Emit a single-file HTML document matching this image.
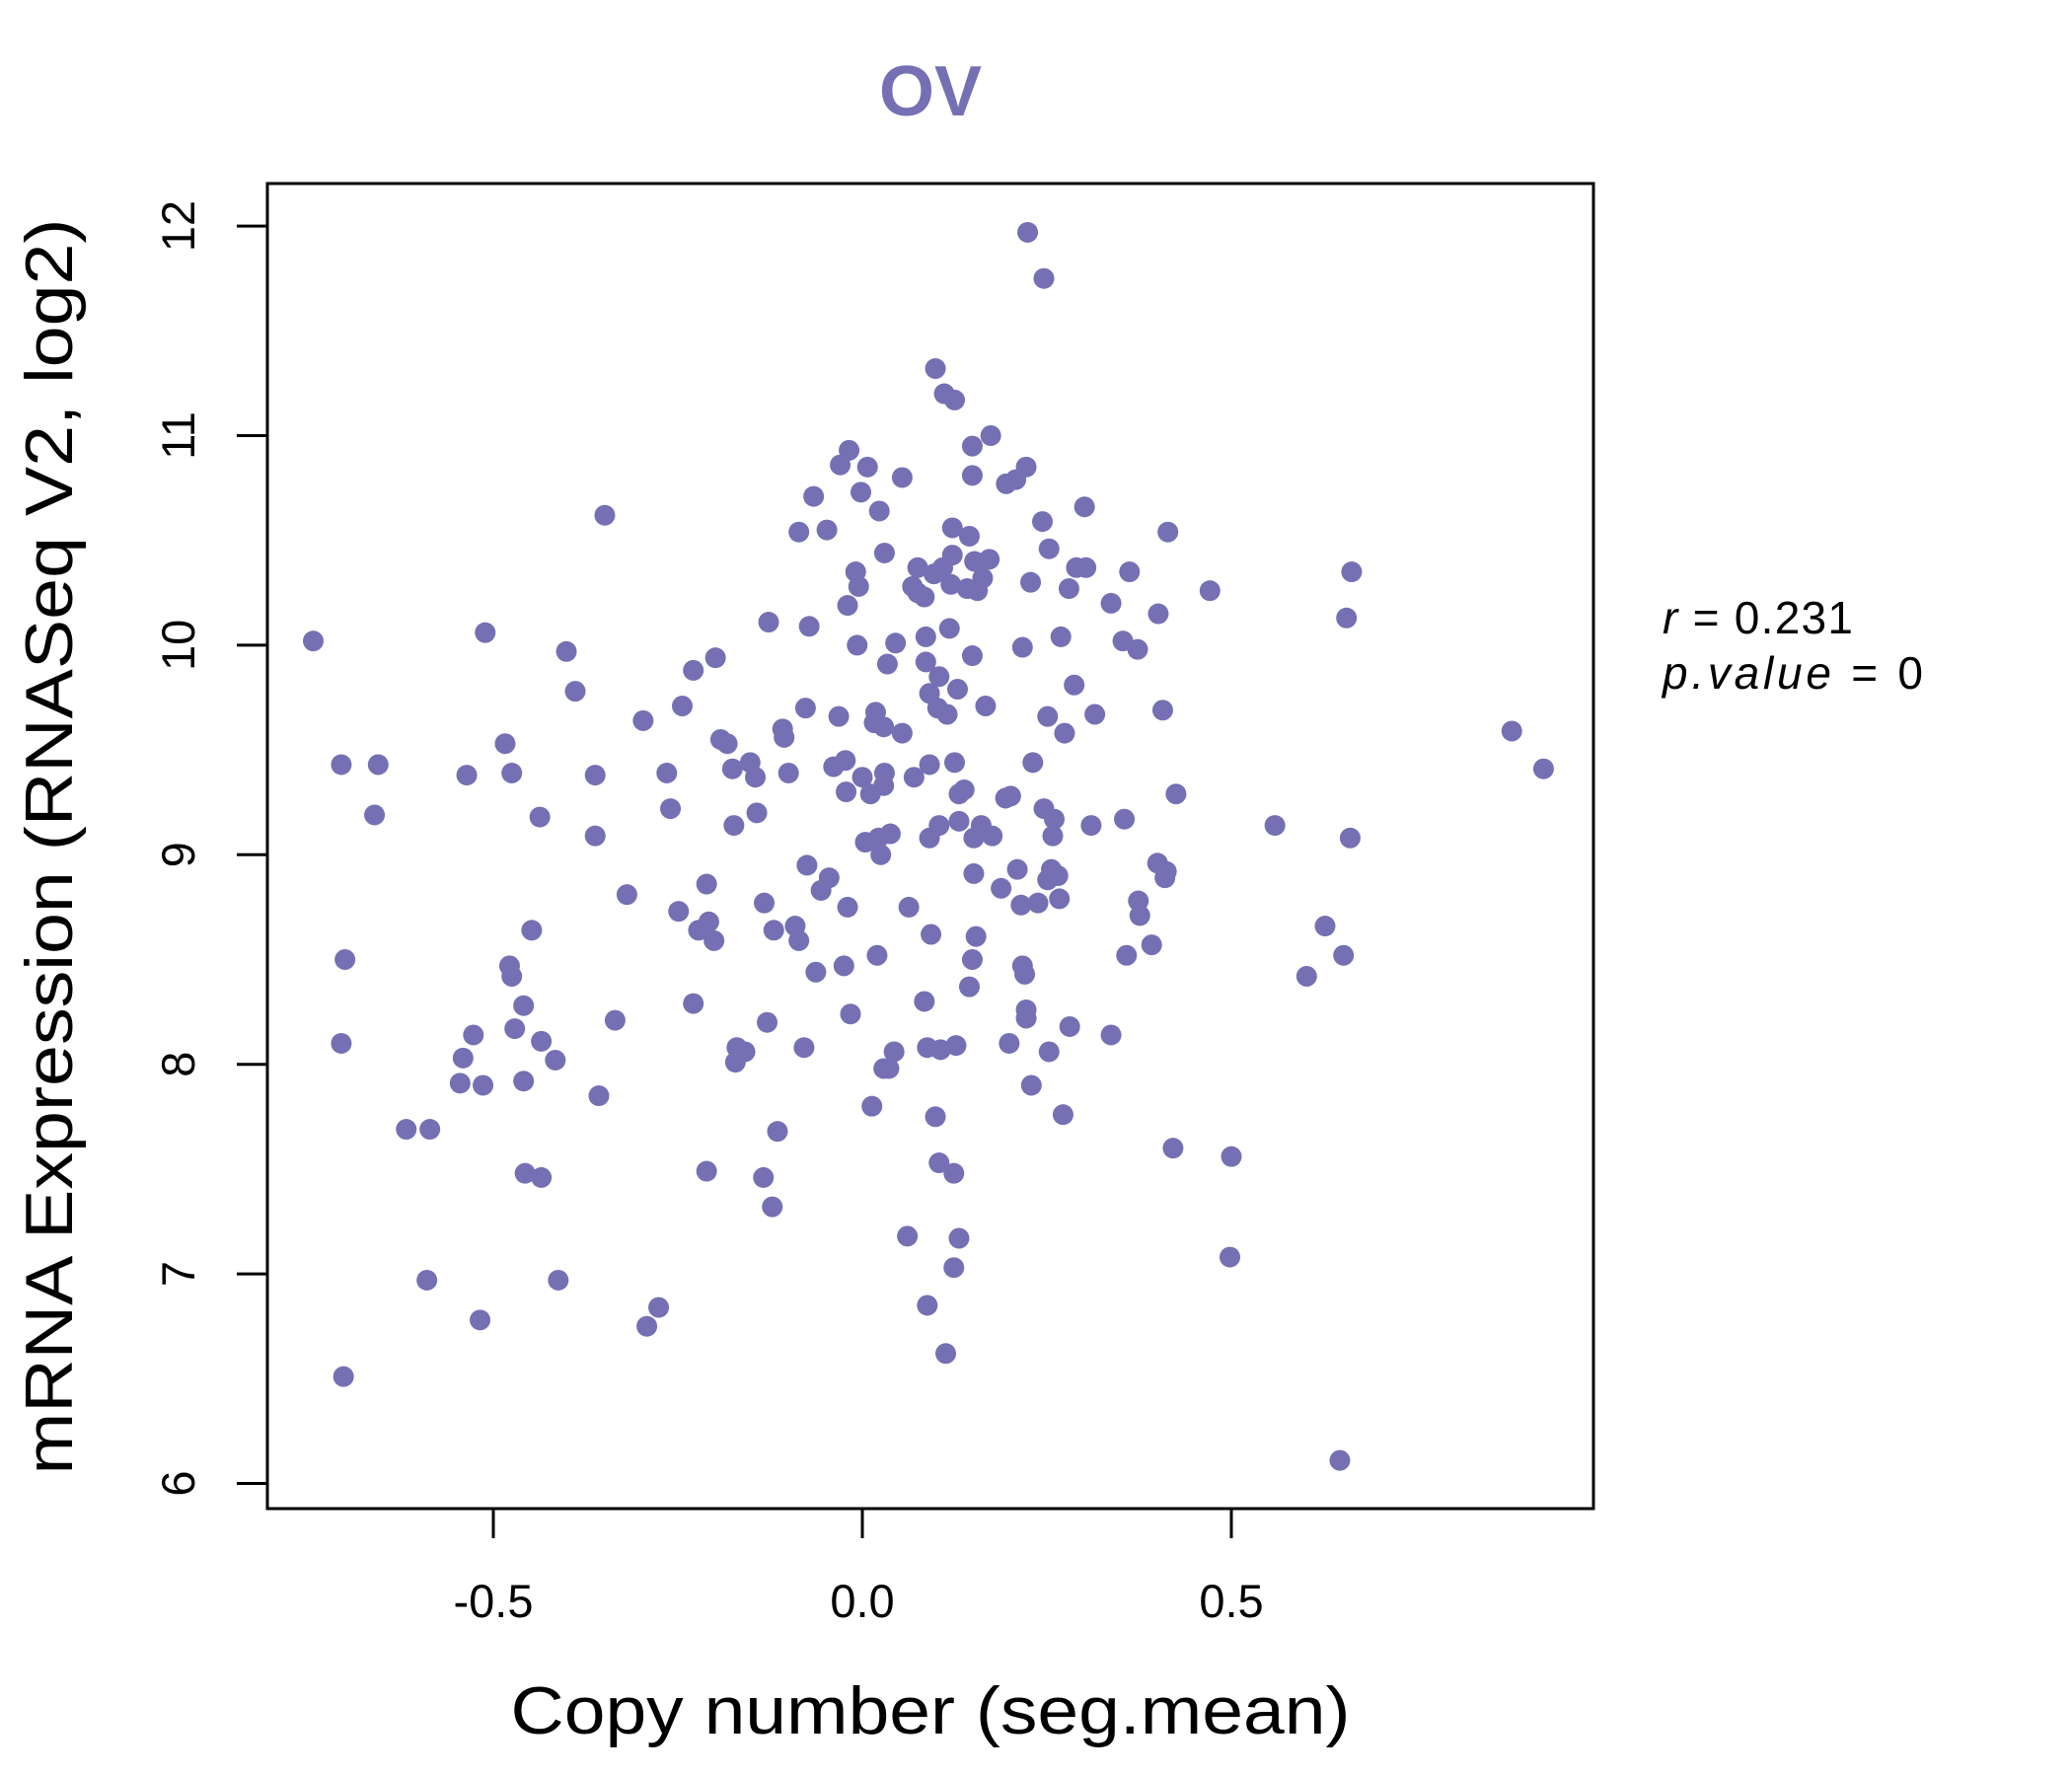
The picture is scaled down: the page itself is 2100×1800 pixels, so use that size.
<!DOCTYPE html>
<html><head><meta charset="utf-8"><style>html,body{margin:0;padding:0;background:#fff}svg{display:block}</style></head>
<body>
<svg id="chart" width="2100" height="1800" xmlns="http://www.w3.org/2000/svg" font-family="'Liberation Sans', sans-serif">
<text x="943" y="117" text-anchor="middle" font-size="72" font-weight="bold" fill="#7570b3">OV</text>
<rect x="271" y="186" width="1344" height="1343" fill="none" stroke="#000" stroke-width="3"/>
<g id="marks"></g>
<g id="axes"></g>
<text x="943" y="1757" text-anchor="middle" font-size="68" textLength="851" lengthAdjust="spacingAndGlyphs">Copy number (seg.mean)</text>
<text transform="translate(73,858) rotate(-90)" text-anchor="middle" font-size="68" textLength="1273" lengthAdjust="spacingAndGlyphs">mRNA Expression (RNASeq V2, log2)</text>
<text x="1685" y="642" font-size="46" textLength="193" lengthAdjust="spacing"><tspan font-style="italic">r</tspan> = 0.231</text>
<text x="1685" y="698" font-size="46" textLength="264" lengthAdjust="spacing"><tspan font-style="italic">p.value</tspan> = 0</text>
</svg>
<script>
const xTicks=[-0.5,0,0.5];
const xTickLabels=["-0.5","0.0","0.5"];
const yTicks=[6,7,8,9,10,11,12];
const yTickLabels=["6","7","8","9","10","11","12"];
const copyNumber=[-0.744,-0.706,-0.656,-0.661,-0.701,-0.706,-0.703,-0.618,-0.586,-0.590,-0.545,-0.541,-0.527,-0.514,-0.518,-0.536,-0.511,-0.484,-0.475,-0.478,-0.475,-0.471,-0.459,-0.459,-0.457,-0.448,-0.437,-0.435,-0.435,-0.416,-0.412,-0.401,-0.389,-0.362,-0.362,-0.357,-0.349,-0.335,-0.319,-0.297,-0.292,-0.276,-0.265,-0.260,-0.249,-0.244,-0.229,-0.229,-0.222,-0.211,-0.211,-0.208,-0.201,-0.199,-0.192,-0.183,-0.176,-0.174,-0.172,-0.170,-0.159,-0.152,-0.145,-0.143,-0.134,-0.133,-0.129,-0.127,-0.122,-0.120,-0.115,-0.108,-0.106,-0.100,-0.091,-0.086,-0.086,-0.079,-0.077,-0.075,-0.072,-0.066,-0.063,-0.056,-0.048,-0.045,-0.039,-0.032,-0.030,-0.025,-0.023,-0.022,-0.020,-0.020,-0.018,-0.016,-0.009,-0.007,-0.005,-0.002,0,0.004,0.007,0.011,0.013,0.016,0.018,0.020,0.022,0.023,0.025,0.029,0.029,0.029,0.030,0.030,0.034,0.036,0.038,0.043,0.045,0.054,0.054,0.061,0.063,0.068,0.070,0.075,0.075,0.084,0.084,0.086,0.086,0.088,0.088,0.091,0.091,0.091,0.093,0.097,0.099,0.099,0.102,0.104,0.104,0.104,0.106,0.109,0.113,0.115,0.111,0.118,0.120,0.122,0.122,0.124,0.124,0.125,0.125,0.127,0.129,0.131,0.131,0.131,0.138,0.142,0.145,0.145,0.149,0.149,0.149,0.149,0.151,0.151,0.152,0.154,0.156,0.161,0.163,0.167,0.172,0.174,0.176,0.188,0.194,0.195,0.199,0.201,0.208,0.210,0.215,0.217,0.217,0.220,0.222,0.222,0.222,0.224,0.228,0.229,0.231,0.238,0.244,0.246,0.246,0.251,0.251,0.253,0.253,0.256,0.258,0.260,0.265,0.267,0.269,0.272,0.274,0.280,0.281,0.287,0.290,0.301,0.303,0.310,0.315,0.337,0.337,0.353,0.355,0.358,0.362,0.373,0.374,0.376,0.392,0.400,0.401,0.407,0.410,0.412,0.414,0.421,0.425,0.471,0.498,0.500,0.559,0.602,0.627,0.647,0.652,0.656,0.661,0.663,0.880,0.923];
const expression=[10.02,9.43,9.43,9.19,8.50,8.10,6.51,7.69,7.69,6.97,7.91,8.03,8.14,7.90,6.78,9.38,10.06,9.53,9.39,8.47,8.42,8.17,8.28,7.92,7.48,8.64,9.18,7.46,8.11,8.02,6.97,9.97,9.78,9.38,9.09,7.85,10.62,8.21,8.81,9.64,6.75,6.84,9.39,9.22,8.73,9.71,9.88,8.29,8.64,8.86,7.49,8.68,8.59,9.94,9.55,9.53,9.41,9.14,8.01,8.08,8.06,9.44,9.37,9.20,7.46,8.77,8.20,10.11,7.32,8.64,7.68,9.60,9.56,9.39,8.66,8.59,10.54,8.08,9.70,8.95,10.09,10.71,8.44,8.83,10.55,8.89,9.42,9.66,10.86,8.47,9.45,9.30,8.75,10.19,10.93,8.24,10.35,10.00,10.28,10.73,9.37,9.06,10.85,9.29,7.80,9.63,9.68,8.52,9.08,10.64,9.00,9.61,9.33,7.98,9.39,10.44,9.91,7.98,9.10,8.06,10.01,9.58,10.80,7.18,8.75,10.28,9.37,10.25,10.37,10.23,8.30,9.92,10.04,6.85,8.08,9.08,9.77,9.43,8.62,10.34,11.32,7.75,9.70,9.85,9.14,7.53,8.07,10.37,6.62,9.67,11.20,10.08,10.29,10.43,10.56,7.48,7.03,11.17,9.44,8.09,9.79,7.17,9.29,9.16,9.31,10.27,10.52,8.37,8.50,10.95,9.95,10.81,9.08,8.91,10.40,8.61,10.26,9.14,10.32,9.71,10.41,11.00,9.09,8.84,9.27,10.77,8.10,9.28,10.79,8.93,8.76,9.99,8.47,8.43,10.85,8.26,8.22,11.97,10.30,7.90,9.44,8.77,10.59,11.75,9.22,9.66,8.88,10.46,8.06,8.93,9.09,9.17,8.90,8.79,10.04,7.76,9.58,10.27,8.18,9.81,10.37,10.66,10.37,9.14,9.67,10.20,8.14,10.02,9.17,8.52,10.35,9.98,8.78,8.71,8.57,8.96,10.15,9.69,8.89,8.92,10.54,7.60,9.29,10.26,7.08,7.56,9.14,8.42,8.66,6.11,8.52,10.13,9.08,10.35,9.59,9.41];
const NS="http://www.w3.org/2000/svg";
function sx(v){return 874+v*748;}
function sy(v){return 1503.5-(v-6)*212.4;}
const marks=document.getElementById('marks');
for(let i=0;i<copyNumber.length;i++){
  const c=document.createElementNS(NS,'circle');
  c.setAttribute('cx',sx(copyNumber[i]));c.setAttribute('cy',sy(expression[i]));
  c.setAttribute('r',10.5);c.setAttribute('fill','#7570b3');
  
  
  marks.appendChild(c);
}
const axes=document.getElementById('axes');
xTicks.forEach((t,i)=>{
  const l=document.createElementNS(NS,'line');
  l.setAttribute('x1',sx(t));l.setAttribute('x2',sx(t));l.setAttribute('y1',1529);l.setAttribute('y2',1559);
  l.setAttribute('stroke','#000');l.setAttribute('stroke-width',3);
  
  
  axes.appendChild(l);
  const tx=document.createElementNS(NS,'text');
  tx.setAttribute('x',sx(t));tx.setAttribute('y',1639);tx.setAttribute('text-anchor','middle');tx.setAttribute('font-size',47);
  tx.textContent=xTickLabels[i];
  
  
  axes.appendChild(tx);
});
yTicks.forEach((t,i)=>{
  const l=document.createElementNS(NS,'line');
  l.setAttribute('x1',240);l.setAttribute('x2',271);l.setAttribute('y1',sy(t));l.setAttribute('y2',sy(t));
  l.setAttribute('stroke','#000');l.setAttribute('stroke-width',3);
  
  
  axes.appendChild(l);
  const tx=document.createElementNS(NS,'text');
  tx.setAttribute('transform','translate(197,'+sy(t)+') rotate(-90)');
  tx.setAttribute('text-anchor','middle');tx.setAttribute('font-size',47);
  tx.textContent=yTickLabels[i];
  
  
  axes.appendChild(tx);
});
</script>
</body></html>
